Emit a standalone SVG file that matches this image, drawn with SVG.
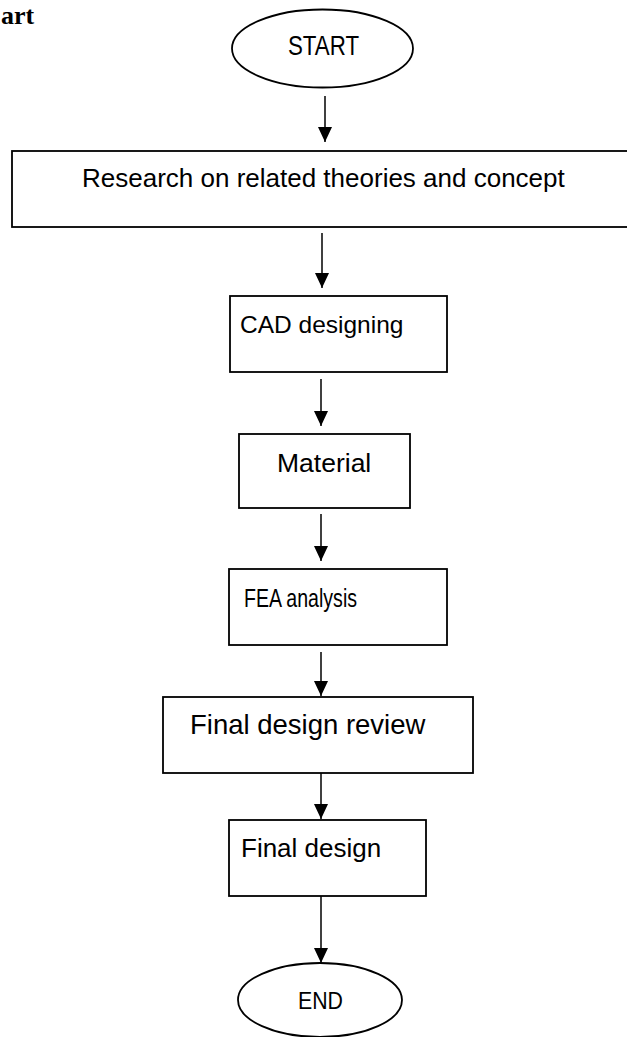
<svg xmlns="http://www.w3.org/2000/svg" width="627" height="1037" viewBox="0 0 627 1037">
<style>
.shape{fill:#fff;stroke:#000;stroke-width:1.8}
.lbl{font-family:"Liberation Sans",Arial,sans-serif;fill:#000}
.conn{stroke:#000;stroke-width:1.5;fill:none}
</style>
<defs>
<marker id="ah" markerWidth="15" markerHeight="14" refX="15" refY="7" orient="auto" markerUnits="userSpaceOnUse" viewBox="0 0 15 14">
<path d="M0,0 L15,7 L0,14 z" fill="#000"/>
</marker>
</defs>
<rect width="627" height="1037" fill="#fff"/>
<text x="1" y="24" font-family="'Liberation Serif','Times New Roman',serif" font-weight="bold" font-size="26" fill="#000">art</text>
<g id="connectors">
<line class="conn" x1="325" y1="96" x2="325" y2="142" marker-end="url(#ah)"/>
<line class="conn" x1="322" y1="233" x2="322" y2="288" marker-end="url(#ah)"/>
<line class="conn" x1="321" y1="379" x2="321" y2="426" marker-end="url(#ah)"/>
<line class="conn" x1="321" y1="514" x2="321" y2="561" marker-end="url(#ah)"/>
<line class="conn" x1="321" y1="652" x2="321" y2="696" marker-end="url(#ah)"/>
<line class="conn" x1="321" y1="773" x2="321" y2="819" marker-end="url(#ah)"/>
<line class="conn" x1="321" y1="896" x2="321" y2="963" marker-end="url(#ah)"/>
</g>
<g id="start">
<ellipse class="shape" cx="322.5" cy="48.5" rx="90.5" ry="39"/>
<text class="lbl" x="288" y="55" font-size="27.5" textLength="71" lengthAdjust="spacingAndGlyphs">START</text>
</g>
<g id="research">
<rect class="shape" x="12" y="151" width="625" height="76"/>
<text class="lbl" x="82" y="187" font-size="26">Research on related theories and concept</text>
</g>
<g id="cad">
<rect class="shape" x="230" y="296" width="217" height="76"/>
<text class="lbl" x="240" y="333" font-size="24.5">CAD designing</text>
</g>
<g id="material">
<rect class="shape" x="239" y="434" width="171" height="74"/>
<text class="lbl" x="277" y="472" font-size="26.5">Material</text>
</g>
<g id="fea">
<rect class="shape" x="229" y="569" width="218" height="76"/>
<text class="lbl" x="244" y="607" font-size="25" textLength="113" lengthAdjust="spacingAndGlyphs">FEA analysis</text>
</g>
<g id="review">
<rect class="shape" x="163" y="697" width="310" height="76"/>
<text class="lbl" x="190" y="734" font-size="27.5">Final design review</text>
</g>
<g id="final">
<rect class="shape" x="229" y="820" width="197" height="76"/>
<text class="lbl" x="241" y="857" font-size="26">Final design</text>
</g>
<g id="end">
<ellipse class="shape" cx="320" cy="1000" rx="82" ry="37"/>
<text class="lbl" x="298" y="1009" font-size="24" textLength="45" lengthAdjust="spacingAndGlyphs">END</text>
</g>
</svg>
